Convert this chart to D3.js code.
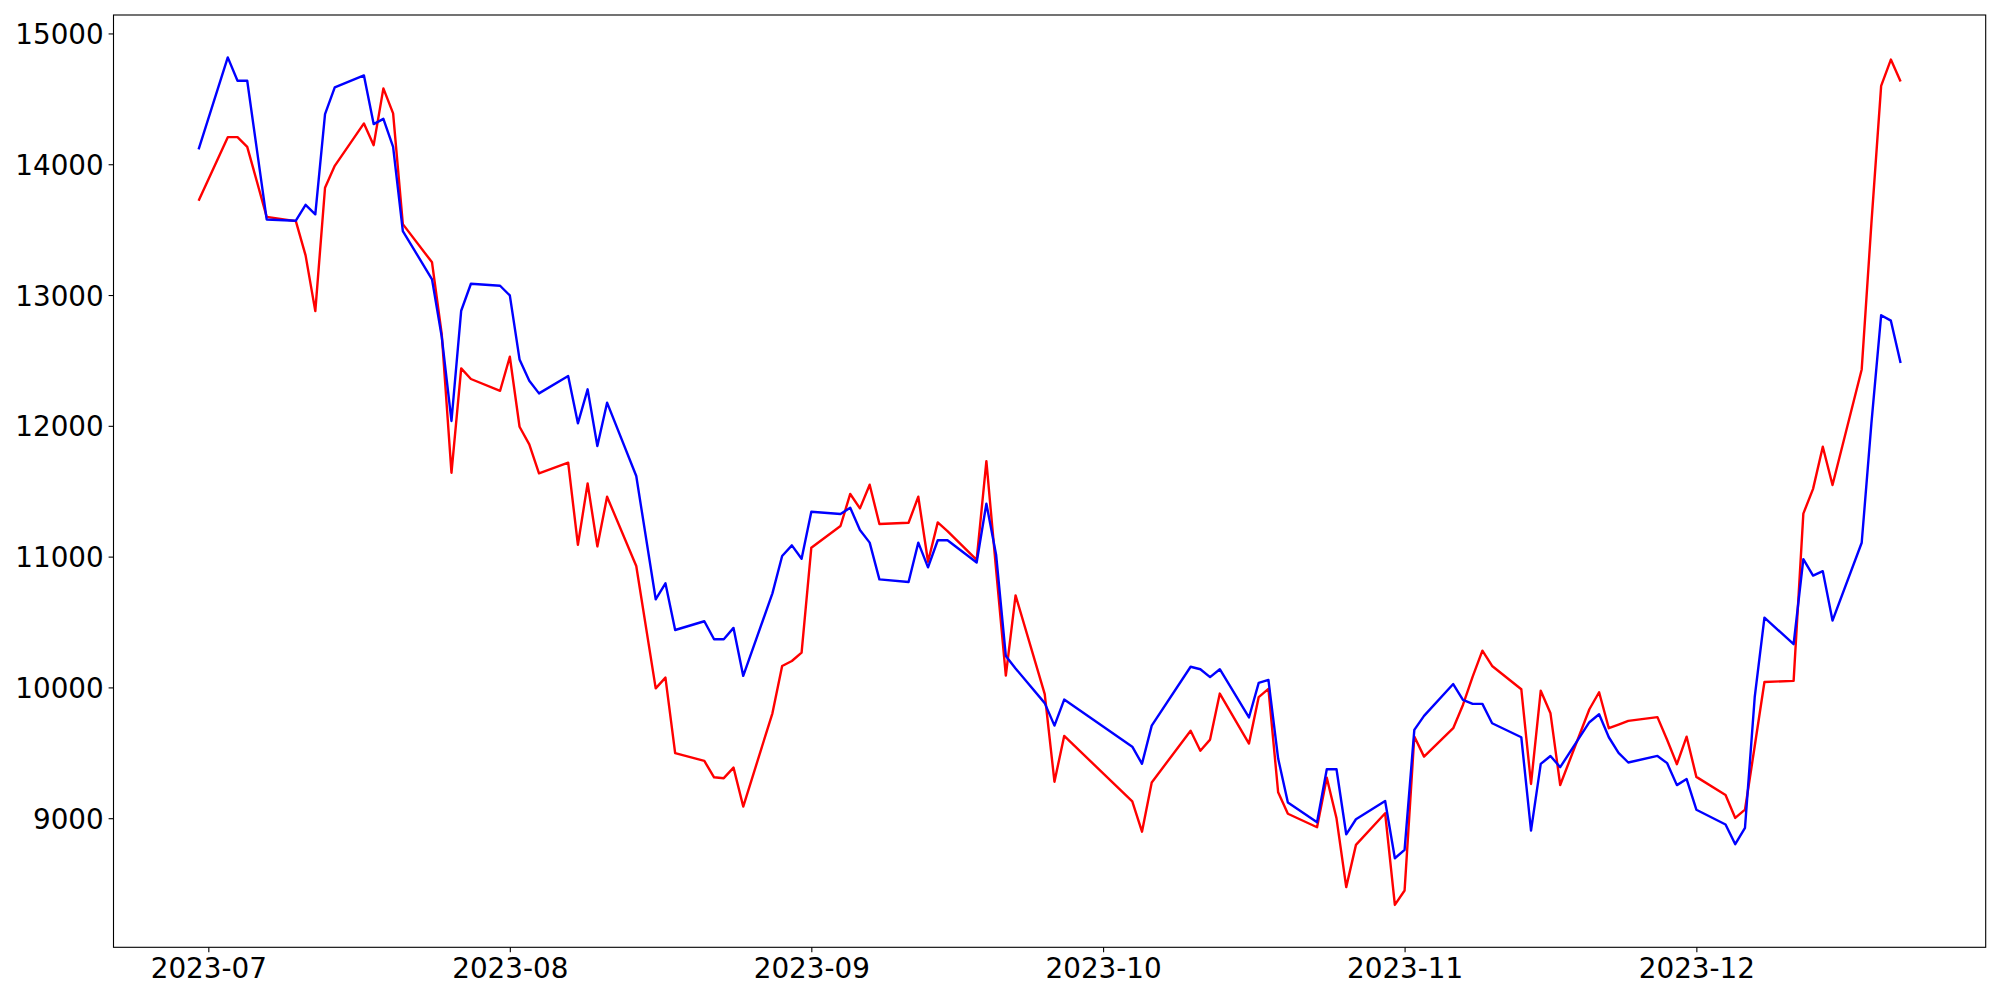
<!DOCTYPE html>
<html>
<head>
<meta charset="utf-8">
<script src="https://cdn.jsdelivr.net/npm/d3@7"></script>
<style>
  html, body { margin: 0; padding: 0; background: #fff; }
  svg { display: block; }
  .tick text { font-family: "DejaVu Sans", sans-serif; }
</style>
</head>
<body>
<svg id="chart" width="2000" height="1000"></svg>
<script>
// ---- Data ----
const dates = [
  "2023-06-30",
  "2023-07-03","2023-07-04","2023-07-05","2023-07-06","2023-07-07","2023-07-10","2023-07-11","2023-07-12","2023-07-13","2023-07-14",
  "2023-07-17","2023-07-18","2023-07-19","2023-07-20","2023-07-21","2023-07-24","2023-07-25","2023-07-26","2023-07-27","2023-07-28","2023-07-31",
  "2023-08-01","2023-08-02","2023-08-03","2023-08-04","2023-08-07","2023-08-08","2023-08-09","2023-08-10","2023-08-11","2023-08-14","2023-08-16",
  "2023-08-17","2023-08-18","2023-08-21","2023-08-22","2023-08-23","2023-08-24","2023-08-25","2023-08-28","2023-08-29","2023-08-30","2023-08-31",
  "2023-09-01","2023-09-04","2023-09-05","2023-09-06","2023-09-07","2023-09-08","2023-09-11","2023-09-12","2023-09-13","2023-09-14","2023-09-15",
  "2023-09-18","2023-09-19","2023-09-20","2023-09-21","2023-09-22","2023-09-25","2023-09-26","2023-09-27",
  "2023-10-04","2023-10-05","2023-10-06","2023-10-10","2023-10-11","2023-10-12","2023-10-13","2023-10-16","2023-10-17","2023-10-18","2023-10-19",
  "2023-10-20","2023-10-23","2023-10-24","2023-10-25","2023-10-26","2023-10-27","2023-10-30","2023-10-31",
  "2023-11-01","2023-11-02","2023-11-03","2023-11-06","2023-11-07","2023-11-08","2023-11-09","2023-11-10","2023-11-13","2023-11-14","2023-11-15",
  "2023-11-16","2023-11-17","2023-11-20","2023-11-21","2023-11-22","2023-11-23","2023-11-24","2023-11-27","2023-11-28","2023-11-29","2023-11-30",
  "2023-12-01","2023-12-04","2023-12-05","2023-12-06","2023-12-07","2023-12-08","2023-12-11","2023-12-12","2023-12-13","2023-12-14","2023-12-15",
  "2023-12-18","2023-12-19","2023-12-20","2023-12-21","2023-12-22"
];

const redValues = [
  13721,
  14207,14207,14133,13866,13598,13565,13303,12877,13820,13988,14312,14146,14580,14389,13542,13250,12700,11641,12439,12358,12268,
  12528,11993,11858,11637,11718,11090,11560,11078,11458,10928,9993,10075,9497,9438,9313,9306,9387,9089,9802,10164,10202,10266,
  11068,11234,11479,11369,11550,11249,11259,11458,10961,11262,11195,10975,11730,10900,10090,10704,9948,9279,9629,
  9129,8897,9273,9669,9516,9601,9953,9571,9926,9989,9198,9034,8931,9310,8999,8473,8796,9038,8337,
  8447,9624,9471,9688,9866,10082,10281,10164,9986,9262,9975,9802,9254,9833,9963,9688,9716,9744,9773,9598,9413,9623,
  9316,9178,9002,9065,9550,10041,10050,11329,11518,11840,11547,12431,13550,14599,14800,14632
];

const blueValues = [
  14113,
  14817,14638,14638,14108,13578,13568,13690,13617,14383,14587,14679,14307,14347,14133,13489,13120,12680,12037,12880,13086,13071,
  12997,12508,12345,12248,12381,12019,12279,11846,12177,11616,10674,10796,10439,10506,10368,10368,10455,10088,10719,11005,11086,10984,
  11343,11326,11374,11204,11107,10826,10806,11107,10918,11125,11125,10955,11405,11015,10240,10145,9880,9708,9907,
  9547,9416,9708,10158,10139,10079,10139,9770,10035,10057,9456,9120,8969,9374,9374,8877,8992,9132,8694,
  8758,9675,9782,10026,9904,9874,9874,9726,9619,8905,9415,9476,9390,9734,9795,9619,9500,9426,9476,9421,9253,9299,
  9065,8952,8801,8926,9925,10533,10331,10981,10855,10889,10511,11106,12020,12846,12804,12481
];

const yTickValues = [9000, 10000, 11000, 12000, 13000, 14000, 15000];
const xTickLabels = ["2023-07","2023-08","2023-09","2023-10","2023-11","2023-12"];

// ---- Layout ----
const W = 2000, H = 1000;
const margin = { left: 113.5, right: 14.3, top: 15, bottom: 52.7 };
const innerW = W - margin.left - margin.right;
const innerH = H - margin.top - margin.bottom;

const parse = d3.utcParse("%Y-%m-%d");
const parseMonth = d3.utcParse("%Y-%m");
const xDates = dates.map(parse);

// matplotlib-like 5% margins
const [x0, x1] = d3.extent(xDates);
const xPad = (x1 - x0) * 0.05;
const allVals = redValues.concat(blueValues);
const [y0, y1] = d3.extent(allVals);
const yPad = (y1 - y0) * 0.05;

const x = d3.scaleUtc()
  .domain([new Date(+x0 - xPad), new Date(+x1 + xPad)])
  .range([0, innerW]);
const y = d3.scaleLinear()
  .domain([y0 - yPad, y1 + yPad])
  .range([innerH, 0]);

const svg = d3.select("#chart");
const g = svg.append("g").attr("transform", `translate(${margin.left},${margin.top})`);

const line = d3.line()
  .x((d, i) => x(xDates[i]))
  .y(d => y(d));

g.append("path")
  .datum(redValues)
  .attr("fill", "none")
  .attr("stroke", "#ff0000")
  .attr("stroke-width", 2.4)
  .attr("stroke-linejoin", "round")
  .attr("d", line);

g.append("path")
  .datum(blueValues)
  .attr("fill", "none")
  .attr("stroke", "#0000ff")
  .attr("stroke-width", 2.4)
  .attr("stroke-linejoin", "round")
  .attr("d", line);

// Axes
const fmt = d3.utcFormat("%Y-%m");
const xAxis = d3.axisBottom(x)
  .tickValues(xTickLabels.map(parseMonth))
  .tickFormat(fmt)
  .tickSize(4.9)
  .tickPadding(4.9);
const yAxis = d3.axisLeft(y)
  .tickValues(yTickValues)
  .tickFormat(d3.format("d"))
  .tickSize(4.9)
  .tickPadding(4.9);

const gx = g.append("g").attr("transform", `translate(0,${innerH})`).call(xAxis);
const gy = g.append("g").call(yAxis);

[gx, gy].forEach(a => {
  a.select(".domain").remove();
  a.selectAll(".tick line").attr("stroke", "#000").attr("stroke-width", 1.1);
  a.selectAll(".tick text")
    .attr("fill", "#000")
    .style("font-size", "27.8px")
    .style("font-family", "'DejaVu Sans', sans-serif");
});
gx.selectAll(".tick text").attr("dy", "0.76em");
gy.selectAll(".tick text").attr("dy", "0.36em");

// Frame (spines)
g.append("rect")
  .attr("x", 0).attr("y", 0)
  .attr("width", innerW).attr("height", innerH)
  .attr("fill", "none")
  .attr("stroke", "#000")
  .attr("stroke-width", 1.1);
</script>
</body>
</html>
